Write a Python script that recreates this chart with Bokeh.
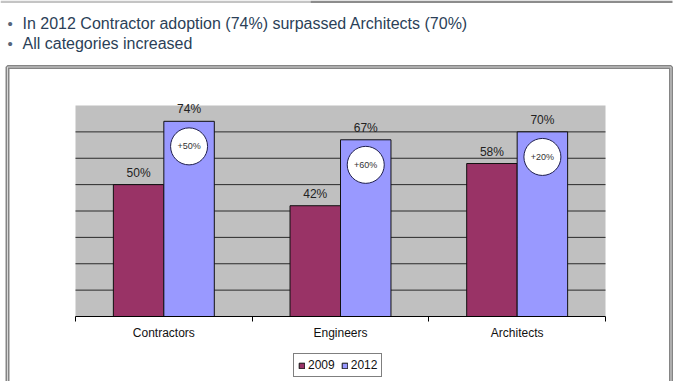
from bokeh.plotting import figure
from bokeh.models import (ColumnDataSource, FixedTicker, Legend, LegendItem,
                          BoxAnnotation, Range1d)
from bokeh.core.properties import value
from bokeh.embed import file_html
from bokeh.resources import INLINE

# ---- data ----
categories = ["Contractors", "Engineers", "Architects"]
series_names = ["2009", "2012"]
values_2009 = [50, 42, 58]
values_2012 = [74, 67, 70]
growth_labels = ["+50%", "+60%", "+20%"]
bullets = ["In 2012 Contractor adoption (74%) surpassed Architects (70%)",
           "All categories increased"]
y_max = 80
y_grid_ticks = [10, 20, 30, 40, 50, 60, 70]

# ---- styling ----
FONT = "Liberation Sans"
C2009 = "#993366"
C2012 = "#9999FF"
TEXT_BLUE = "#2b3f58"
W, H = 678, 381
# plot-area placement on the page (pixels)
PA_L, PA_R, PA_T, PA_B = 75, 605, 105, 316

n = len(categories)
xs = (PA_R - PA_L) / n          # px per category
ys = (PA_B - PA_T) / y_max      # px per unit


def px2x(px):
    return (px - PA_L) / xs


def py2y(py):
    return (PA_B - py) / ys


centers = [i + 0.5 for i in range(n)]
bw = 0.2857
x09 = [c - bw / 2 for c in centers]
x12 = [c + bw / 2 for c in centers]

src09 = ColumnDataSource(dict(x=x09, top=values_2009,
                              lab=[f"{v}%" for v in values_2009]))
src12 = ColumnDataSource(dict(x=x12, top=values_2012,
                              lab=[f"{v}%" for v in values_2012],
                              cy=[v - 9.5 for v in values_2012],
                              g=growth_labels))

p = figure(width=W, height=H, output_backend="svg", toolbar_location=None,
           x_range=Range1d(px2x(0), px2x(W)), y_range=Range1d(py2y(H), py2y(0)),
           min_border=0, min_border_left=0, min_border_right=0,
           min_border_top=0, min_border_bottom=0)
p.background_fill_color = "white"
p.border_fill_color = "white"
p.outline_line_color = None
p.yaxis.visible = False
p.xgrid.visible = False
p.ygrid.visible = False

# top rule of the slide
p.add_layout(BoxAnnotation(left=px2x(0), right=px2x(310), top=py2y(0), bottom=py2y(2.5),
                           fill_color="#c4c4c4", fill_alpha=1, line_color=None))
p.add_layout(BoxAnnotation(left=px2x(310), right=px2x(672), top=py2y(0), bottom=py2y(2.5),
                           fill_color="#8c8c8c", fill_alpha=1, line_color=None))

# chart box (double border)
p.add_layout(BoxAnnotation(left=px2x(7), right=px2x(670.5), top=py2y(66.5), bottom=py2y(420),
                           fill_alpha=0, line_color="#858585", line_alpha=1, line_width=4))
p.add_layout(BoxAnnotation(left=px2x(7), right=px2x(670.5), top=py2y(66.5), bottom=py2y(420),
                           fill_alpha=0, line_color="#d6d6d6", line_alpha=1, line_width=1))

# plot area background
p.add_layout(BoxAnnotation(left=0, right=n, bottom=0, top=y_max,
                           fill_color="#c0c0c0", fill_alpha=1, line_color=None,
                           level="underlay"))

# horizontal grid lines
p.segment(x0=[0] * len(y_grid_ticks), x1=[n] * len(y_grid_ticks),
          y0=y_grid_ticks, y1=y_grid_ticks, line_color="#2a2a2a", line_width=1)

# x axis at y = 0
xa = p.xaxis[0]
xa.fixed_location = 0
xa.bounds = (0, n)
xa.ticker = FixedTicker(ticks=centers, minor_ticks=list(range(n + 1)))
xa.major_label_overrides = {c: lab for c, lab in zip(centers, categories)}
xa.major_tick_out = 0
xa.major_tick_in = 0
xa.minor_tick_out = 5
xa.minor_tick_in = 0
xa.minor_tick_line_color = "black"
xa.axis_line_color = "black"
xa.major_label_standoff = 4
xa.major_label_text_font = FONT
xa.major_label_text_font_size = "12px"
xa.major_label_text_color = "#111111"

r09 = p.vbar(x="x", top="top", width=bw, bottom=0, source=src09,
             fill_color=C2009, line_color="#111111", line_width=1)
r12 = p.vbar(x="x", top="top", width=bw, bottom=0, source=src12,
             fill_color=C2012, line_color="#111111", line_width=1)

for src in (src09, src12):
    p.text(x="x", y="top", text="lab", source=src, text_align="center",
           text_baseline="bottom", y_offset=-5, text_font=value(FONT),
           text_font_size="12px", text_color="#222222")

p.scatter(x="x", y="cy", source=src12, marker="circle", size=37,
          fill_color="white", line_color="#1f1f4d", line_width=1)
p.text(x="x", y="cy", text="g", source=src12, text_align="center",
       text_baseline="middle", text_font=value(FONT), text_font_size="9px",
       text_color="#333333")

# bullets
for i, t in enumerate(bullets):
    by = py2y(22.5 + 20 * i)
    p.text(x=[px2x(7)], y=[by], text=["•"], text_font=value(FONT),
           text_font_size="15px", text_color="#55657a", text_baseline="alphabetic")
    p.text(x=[px2x(22)], y=[by], text=[t], text_font=value(FONT),
           text_font_size="16px", text_color=TEXT_BLUE, text_baseline="alphabetic")

legend = Legend(items=[LegendItem(label=series_names[0], renderers=[r09]),
                       LegendItem(label=series_names[1], renderers=[r12])],
                orientation="horizontal", location=(293, 4),
                label_text_font=FONT, label_text_font_size="12px",
                label_text_color="#111111",
                glyph_width=7, glyph_height=7, label_standoff=3, spacing=6,
                padding=4, margin=0, border_line_color="black",
                border_line_width=1, background_fill_color="white",
                label_height=14, label_width=26)
p.add_layout(legend, "center")

open("out.html", "w").write(file_html(p, INLINE))
